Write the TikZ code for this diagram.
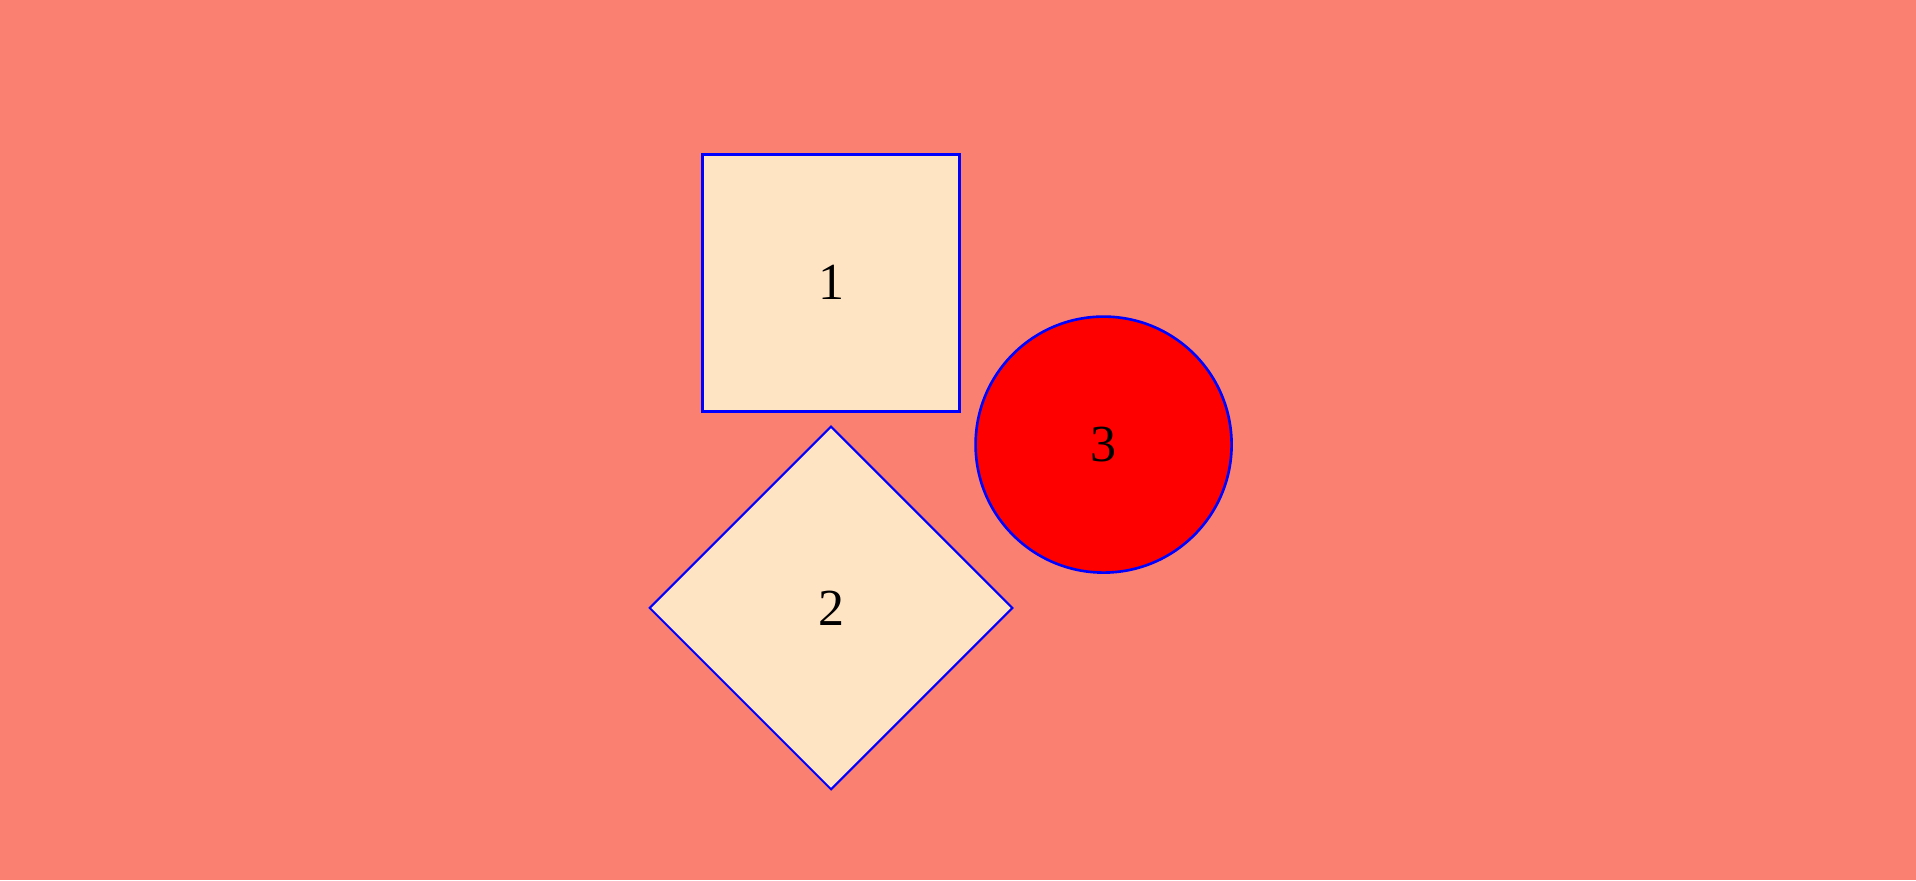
\documentclass[tikz,border=0pt]{standalone}
\usepackage{fontspec}
\setmainfont{Liberation Serif}
\usepackage{xcolor}
\usetikzlibrary{shapes.geometric}
\definecolor{salmonbg}{HTML}{FA8072}
\definecolor{bisquefill}{HTML}{FFE4C4}
\tikzset{
    shapebox/.style={draw=blue, line width=0.75pt, fill=bisquefill, inner sep=0pt, font=\fontsize{14.8pt}{17pt}\selectfont},
}

\begin{document}
\begin{tikzpicture}
    \fill[salmonbg] (0,0) rectangle (19.16,8.80);
    \useasboundingbox (0,0) rectangle (19.16,8.80);
    \node[shapebox, rectangle, minimum size=2.57cm] (one) at (8.31,5.973) {1};
    \node[shapebox, diamond, line width=0.6pt, minimum width=3.634cm, minimum height=3.634cm] (two) at (8.31,2.72) {2};
    \node[shapebox, circle, fill=red, minimum size=2.56cm] (three) at (11.036,4.354) {3};
\end{tikzpicture}
\end{document}
